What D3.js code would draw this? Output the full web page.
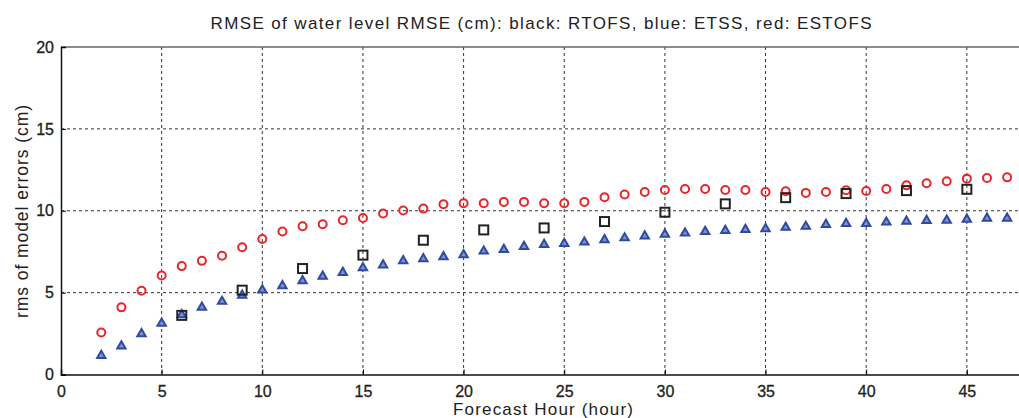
<!DOCTYPE html>
<html>
<head>
<meta charset="utf-8">
<script src="https://cdn.jsdelivr.net/npm/d3@7"></script>
<style>
  body { margin: 0; background: #fff; }
  text { font-family: "Liberation Sans", Arial, sans-serif; fill: #222; }
</style>
</head>
<body>
<svg id="chart"></svg>
<script>
// forecast hours
const hours = d3.range(2, 48);
const rtofsHours = [6, 9, 12, 15, 18, 21, 24, 27, 30, 33, 36, 39, 42, 45];

// ESTOFS (red circles), hours 2..47
const estofs = [2.57, 4.10, 5.11, 6.05, 6.62, 6.94, 7.25, 7.77, 8.28, 8.73, 9.05, 9.18, 9.42,
  9.56, 9.83, 10.01, 10.13, 10.40, 10.46, 10.46, 10.54, 10.54, 10.46, 10.46, 10.54, 10.82,
  10.99, 11.15, 11.27, 11.33, 11.33, 11.27, 11.27, 11.15, 11.19, 11.09, 11.15, 11.25, 11.21,
  11.33, 11.55, 11.68, 11.8, 11.96, 12.0, 12.04];

// ETSS (blue triangles), hours 2..47
const etss = [1.15, 1.74, 2.49, 3.12, 3.65, 4.10, 4.46, 4.83, 5.15, 5.42, 5.72, 5.99, 6.23,
  6.51, 6.68, 6.94, 7.06, 7.18, 7.31, 7.53, 7.63, 7.81, 7.94, 8.0, 8.08, 8.22, 8.34, 8.45,
  8.56, 8.63, 8.73, 8.79, 8.85, 8.89, 8.98, 9.04, 9.16, 9.22, 9.22, 9.30, 9.36, 9.40, 9.42,
  9.48, 9.54, 9.54];

// RTOFS (black squares), every 3 hours
const rtofs = [3.61, 5.15, 6.47, 7.29, 8.20, 8.83, 8.95, 9.34, 9.91, 10.42, 10.80, 11.05, 11.23, 11.31];

const xTicks = [0, 5, 10, 15, 20, 25, 30, 35, 40, 45];
const yTicks = [0, 5, 10, 15, 20];

const width = 1019;
const height = 418;
const plotLeft = 61;
const plotTop = 47;
const plotBottom = 374.5;

const svg = d3.select('#chart')
  .attr('width', width)
  .attr('height', height);

const x = d3.scaleLinear().domain([0, 48]).range([plotLeft, plotLeft + 48 * 20.13]);
const y = d3.scaleLinear().domain([0, 20]).range([plotBottom, plotTop]);

// grid
svg.append('g')
  .selectAll('line')
  .data(xTicks.filter(d => d > 0))
  .enter()
  .append('line')
  .attr('x1', d => x(d)).attr('x2', d => x(d))
  .attr('y1', plotTop).attr('y2', plotBottom)
  .attr('stroke', '#333')
  .attr('stroke-width', 1)
  .attr('stroke-dasharray', '3,3');

svg.append('g')
  .selectAll('line')
  .data(yTicks.filter(d => d > 0 && d < 20))
  .enter()
  .append('line')
  .attr('x1', plotLeft).attr('x2', width)
  .attr('y1', d => y(d)).attr('y2', d => y(d))
  .attr('stroke', '#333')
  .attr('stroke-width', 1)
  .attr('stroke-dasharray', '3,3');

// box
svg.append('line')
  .attr('x1', plotLeft).attr('x2', width).attr('y1', plotTop).attr('y2', plotTop)
  .attr('stroke', '#666').attr('stroke-width', 1.5);

const xAxis = svg.append('g')
  .attr('transform', `translate(0,${plotBottom})`)
  .call(d3.axisBottom(x).tickValues(xTicks).tickSize(-5).tickPadding(11));
xAxis.select('.domain').attr('stroke', '#111').attr('stroke-width', 1.5);
xAxis.selectAll('text').attr('font-size', 16).attr('fill', '#222')
  .attr('stroke', '#222').attr('stroke-width', 0.3);

const yAxis = svg.append('g')
  .attr('transform', `translate(${plotLeft},0)`)
  .call(d3.axisLeft(y).tickValues(yTicks).tickSize(-5).tickPadding(7));
yAxis.select('.domain').attr('stroke', '#111').attr('stroke-width', 1.5);
yAxis.selectAll('text').attr('font-size', 16).attr('fill', '#222')
  .attr('stroke', '#222').attr('stroke-width', 0.3);

// title and labels
svg.append('text')
  .attr('x', 541)
  .attr('y', 28.5)
  .attr('text-anchor', 'middle')
  .attr('font-size', 17)
  .attr('textLength', 661)
  .attr('lengthAdjust', 'spacing')
  .text('RMSE of water level RMSE (cm): black: RTOFS, blue: ETSS, red: ESTOFS');

svg.append('text')
  .attr('transform', 'translate(28,211.5) rotate(-90)')
  .attr('text-anchor', 'middle')
  .attr('font-size', 17.5)
  .attr('textLength', 213)
  .attr('lengthAdjust', 'spacing')
  .text('rms of model errors (cm)');

svg.append('text')
  .attr('x', 543)
  .attr('y', 415)
  .attr('text-anchor', 'middle')
  .attr('font-size', 17)
  .attr('textLength', 180)
  .attr('lengthAdjust', 'spacing')
  .text('Forecast Hour (hour)');

// markers
svg.append('g')
  .selectAll('circle')
  .data(hours.map((h, i) => [h, estofs[i]]))
  .enter()
  .append('circle')
  .attr('cx', d => x(d[0]))
  .attr('cy', d => y(d[1]))
  .attr('r', 4)
  .attr('fill', 'none')
  .attr('stroke', '#e8262a')
  .attr('stroke-width', 2);

const tri = d3.symbol().type(d3.symbolTriangle).size(30);
svg.append('g')
  .selectAll('path')
  .data(hours.map((h, i) => [h, etss[i]]))
  .enter()
  .append('path')
  .attr('d', tri)
  .attr('transform', d => `translate(${x(d[0])},${y(d[1])})`)
  .attr('fill', '#7f92d0')
  .attr('stroke', '#2f4aa0')
  .attr('stroke-width', 2);

svg.append('g')
  .selectAll('rect')
  .data(rtofsHours.map((h, i) => [h, rtofs[i]]))
  .enter()
  .append('rect')
  .attr('x', d => x(d[0]) - 4.5)
  .attr('y', d => y(d[1]) - 4.5)
  .attr('width', 9)
  .attr('height', 9)
  .attr('fill', 'none')
  .attr('stroke', '#222')
  .attr('stroke-width', 2);
</script>
</body>
</html>
